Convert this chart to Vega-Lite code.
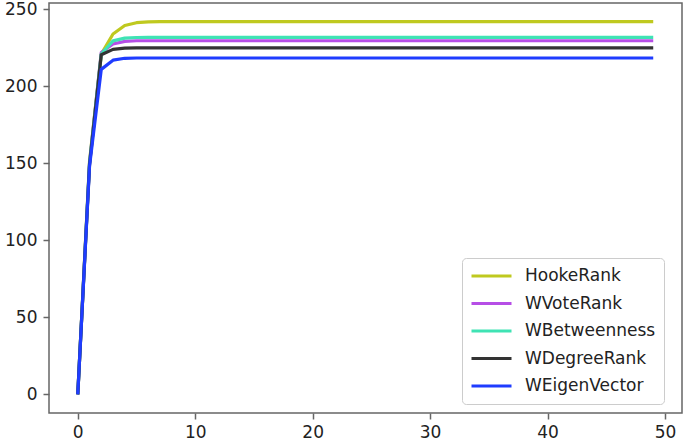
{
  "$schema": "https://vega.github.io/schema/vega-lite/v6.json",
  "width": 633,
  "height": 410,
  "autosize": {"type": "none"},
  "padding": {"left": 49, "top": 3, "right": 3, "bottom": 32},
  "background": "white",
  "config": {
    "view": {"stroke": "#666", "strokeWidth": 1.5},
    "font": "DejaVu Sans"
  },
  "data": {
    "values": [
      {"x": 0, "HookeRank": 0, "WVoteRank": 0, "WBetweenness": 0, "WDegreeRank": 0, "WEigenVector": 0},
      {"x": 1, "HookeRank": 151, "WVoteRank": 150, "WBetweenness": 150, "WDegreeRank": 149, "WEigenVector": 148},
      {"x": 2, "HookeRank": 221, "WVoteRank": 222, "WBetweenness": 221, "WDegreeRank": 220.5, "WEigenVector": 211},
      {"x": 3, "HookeRank": 234, "WVoteRank": 227.5, "WBetweenness": 229.5, "WDegreeRank": 224, "WEigenVector": 217},
      {"x": 4, "HookeRank": 239.5, "WVoteRank": 229.2, "WBetweenness": 231.3, "WDegreeRank": 224.8, "WEigenVector": 218.2},
      {"x": 5, "HookeRank": 241.3, "WVoteRank": 229.6, "WBetweenness": 231.7, "WDegreeRank": 224.9, "WEigenVector": 218.4},
      {"x": 6, "HookeRank": 241.9, "WVoteRank": 229.6, "WBetweenness": 231.8, "WDegreeRank": 224.9, "WEigenVector": 218.4},
      {"x": 7, "HookeRank": 242, "WVoteRank": 229.6, "WBetweenness": 231.8, "WDegreeRank": 224.9, "WEigenVector": 218.4},
      {"x": 8, "HookeRank": 242, "WVoteRank": 229.6, "WBetweenness": 231.8, "WDegreeRank": 224.9, "WEigenVector": 218.4},
      {"x": 9, "HookeRank": 242, "WVoteRank": 229.6, "WBetweenness": 231.8, "WDegreeRank": 224.9, "WEigenVector": 218.4},
      {"x": 10, "HookeRank": 242, "WVoteRank": 229.6, "WBetweenness": 231.8, "WDegreeRank": 224.9, "WEigenVector": 218.4},
      {"x": 11, "HookeRank": 242, "WVoteRank": 229.6, "WBetweenness": 231.8, "WDegreeRank": 224.9, "WEigenVector": 218.4},
      {"x": 12, "HookeRank": 242, "WVoteRank": 229.6, "WBetweenness": 231.8, "WDegreeRank": 224.9, "WEigenVector": 218.4},
      {"x": 13, "HookeRank": 242, "WVoteRank": 229.6, "WBetweenness": 231.8, "WDegreeRank": 224.9, "WEigenVector": 218.4},
      {"x": 14, "HookeRank": 242, "WVoteRank": 229.6, "WBetweenness": 231.8, "WDegreeRank": 224.9, "WEigenVector": 218.4},
      {"x": 15, "HookeRank": 242, "WVoteRank": 229.6, "WBetweenness": 231.8, "WDegreeRank": 224.9, "WEigenVector": 218.4},
      {"x": 16, "HookeRank": 242, "WVoteRank": 229.6, "WBetweenness": 231.8, "WDegreeRank": 224.9, "WEigenVector": 218.4},
      {"x": 17, "HookeRank": 242, "WVoteRank": 229.6, "WBetweenness": 231.8, "WDegreeRank": 224.9, "WEigenVector": 218.4},
      {"x": 18, "HookeRank": 242, "WVoteRank": 229.6, "WBetweenness": 231.8, "WDegreeRank": 224.9, "WEigenVector": 218.4},
      {"x": 19, "HookeRank": 242, "WVoteRank": 229.6, "WBetweenness": 231.8, "WDegreeRank": 224.9, "WEigenVector": 218.4},
      {"x": 20, "HookeRank": 242, "WVoteRank": 229.6, "WBetweenness": 231.8, "WDegreeRank": 224.9, "WEigenVector": 218.4},
      {"x": 21, "HookeRank": 242, "WVoteRank": 229.6, "WBetweenness": 231.8, "WDegreeRank": 224.9, "WEigenVector": 218.4},
      {"x": 22, "HookeRank": 242, "WVoteRank": 229.6, "WBetweenness": 231.8, "WDegreeRank": 224.9, "WEigenVector": 218.4},
      {"x": 23, "HookeRank": 242, "WVoteRank": 229.6, "WBetweenness": 231.8, "WDegreeRank": 224.9, "WEigenVector": 218.4},
      {"x": 24, "HookeRank": 242, "WVoteRank": 229.6, "WBetweenness": 231.8, "WDegreeRank": 224.9, "WEigenVector": 218.4},
      {"x": 25, "HookeRank": 242, "WVoteRank": 229.6, "WBetweenness": 231.8, "WDegreeRank": 224.9, "WEigenVector": 218.4},
      {"x": 26, "HookeRank": 242, "WVoteRank": 229.6, "WBetweenness": 231.8, "WDegreeRank": 224.9, "WEigenVector": 218.4},
      {"x": 27, "HookeRank": 242, "WVoteRank": 229.6, "WBetweenness": 231.8, "WDegreeRank": 224.9, "WEigenVector": 218.4},
      {"x": 28, "HookeRank": 242, "WVoteRank": 229.6, "WBetweenness": 231.8, "WDegreeRank": 224.9, "WEigenVector": 218.4},
      {"x": 29, "HookeRank": 242, "WVoteRank": 229.6, "WBetweenness": 231.8, "WDegreeRank": 224.9, "WEigenVector": 218.4},
      {"x": 30, "HookeRank": 242, "WVoteRank": 229.6, "WBetweenness": 231.8, "WDegreeRank": 224.9, "WEigenVector": 218.4},
      {"x": 31, "HookeRank": 242, "WVoteRank": 229.6, "WBetweenness": 231.8, "WDegreeRank": 224.9, "WEigenVector": 218.4},
      {"x": 32, "HookeRank": 242, "WVoteRank": 229.6, "WBetweenness": 231.8, "WDegreeRank": 224.9, "WEigenVector": 218.4},
      {"x": 33, "HookeRank": 242, "WVoteRank": 229.6, "WBetweenness": 231.8, "WDegreeRank": 224.9, "WEigenVector": 218.4},
      {"x": 34, "HookeRank": 242, "WVoteRank": 229.6, "WBetweenness": 231.8, "WDegreeRank": 224.9, "WEigenVector": 218.4},
      {"x": 35, "HookeRank": 242, "WVoteRank": 229.6, "WBetweenness": 231.8, "WDegreeRank": 224.9, "WEigenVector": 218.4},
      {"x": 36, "HookeRank": 242, "WVoteRank": 229.6, "WBetweenness": 231.8, "WDegreeRank": 224.9, "WEigenVector": 218.4},
      {"x": 37, "HookeRank": 242, "WVoteRank": 229.6, "WBetweenness": 231.8, "WDegreeRank": 224.9, "WEigenVector": 218.4},
      {"x": 38, "HookeRank": 242, "WVoteRank": 229.6, "WBetweenness": 231.8, "WDegreeRank": 224.9, "WEigenVector": 218.4},
      {"x": 39, "HookeRank": 242, "WVoteRank": 229.6, "WBetweenness": 231.8, "WDegreeRank": 224.9, "WEigenVector": 218.4},
      {"x": 40, "HookeRank": 242, "WVoteRank": 229.6, "WBetweenness": 231.8, "WDegreeRank": 224.9, "WEigenVector": 218.4},
      {"x": 41, "HookeRank": 242, "WVoteRank": 229.6, "WBetweenness": 231.8, "WDegreeRank": 224.9, "WEigenVector": 218.4},
      {"x": 42, "HookeRank": 242, "WVoteRank": 229.6, "WBetweenness": 231.8, "WDegreeRank": 224.9, "WEigenVector": 218.4},
      {"x": 43, "HookeRank": 242, "WVoteRank": 229.6, "WBetweenness": 231.8, "WDegreeRank": 224.9, "WEigenVector": 218.4},
      {"x": 44, "HookeRank": 242, "WVoteRank": 229.6, "WBetweenness": 231.8, "WDegreeRank": 224.9, "WEigenVector": 218.4},
      {"x": 45, "HookeRank": 242, "WVoteRank": 229.6, "WBetweenness": 231.8, "WDegreeRank": 224.9, "WEigenVector": 218.4},
      {"x": 46, "HookeRank": 242, "WVoteRank": 229.6, "WBetweenness": 231.8, "WDegreeRank": 224.9, "WEigenVector": 218.4},
      {"x": 47, "HookeRank": 242, "WVoteRank": 229.6, "WBetweenness": 231.8, "WDegreeRank": 224.9, "WEigenVector": 218.4},
      {"x": 48, "HookeRank": 242, "WVoteRank": 229.6, "WBetweenness": 231.8, "WDegreeRank": 224.9, "WEigenVector": 218.4},
      {"x": 49, "HookeRank": 242, "WVoteRank": 229.6, "WBetweenness": 231.8, "WDegreeRank": 224.9, "WEigenVector": 218.4}
    ]
  },
  "transform": [
    {"fold": ["HookeRank", "WVoteRank", "WBetweenness", "WDegreeRank", "WEigenVector"], "as": ["series", "value"]}
  ],
  "mark": {"type": "line", "strokeWidth": 3.2, "strokeJoin": "round", "clip": true},
  "encoding": {
    "x": {
      "field": "x",
      "type": "quantitative",
      "scale": {"domain": [-2.45, 51.45], "nice": false, "zero": false},
      "axis": {
        "values": [0, 10, 20, 30, 40, 50],
        "title": null,
        "grid": false,
        "domain": false,
        "tickColor": "#666",
        "tickWidth": 1.5,
        "tickSize": 6,
        "labelFontSize": 17,
        "labelColor": "#222",
        "labelPadding": 5
      }
    },
    "y": {
      "field": "value",
      "type": "quantitative",
      "scale": {"domain": [-12.1, 254.1], "nice": false, "zero": false},
      "axis": {
        "values": [0, 50, 100, 150, 200, 250],
        "title": null,
        "grid": false,
        "domain": false,
        "tickColor": "#666",
        "tickWidth": 1.5,
        "tickSize": 6,
        "labelFontSize": 17,
        "labelColor": "#222",
        "labelPadding": 6
      }
    },
    "color": {
      "field": "series",
      "type": "nominal",
      "sort": ["HookeRank", "WVoteRank", "WBetweenness", "WDegreeRank", "WEigenVector"],
      "scale": {
        "domain": ["HookeRank", "WVoteRank", "WBetweenness", "WDegreeRank", "WEigenVector"],
        "range": ["#bfc91f", "#b64ee6", "#3fe3b4", "#333333", "#1f3cff"]
      },
      "legend": {
        "title": null,
        "orient": "none",
        "legendX": 413,
        "legendY": 255,
        "fillColor": "white",
        "strokeColor": "#cccccc",
        "cornerRadius": 4,
        "padding": 8,
        "symbolType": "stroke",
        "symbolSize": 1600,
        "symbolStrokeWidth": 3,
        "labelFontSize": 17,
        "labelColor": "#222",
        "labelOffset": 12,
        "rowPadding": 7.5,
        "clipHeight": 20
      }
    }
  }
}
